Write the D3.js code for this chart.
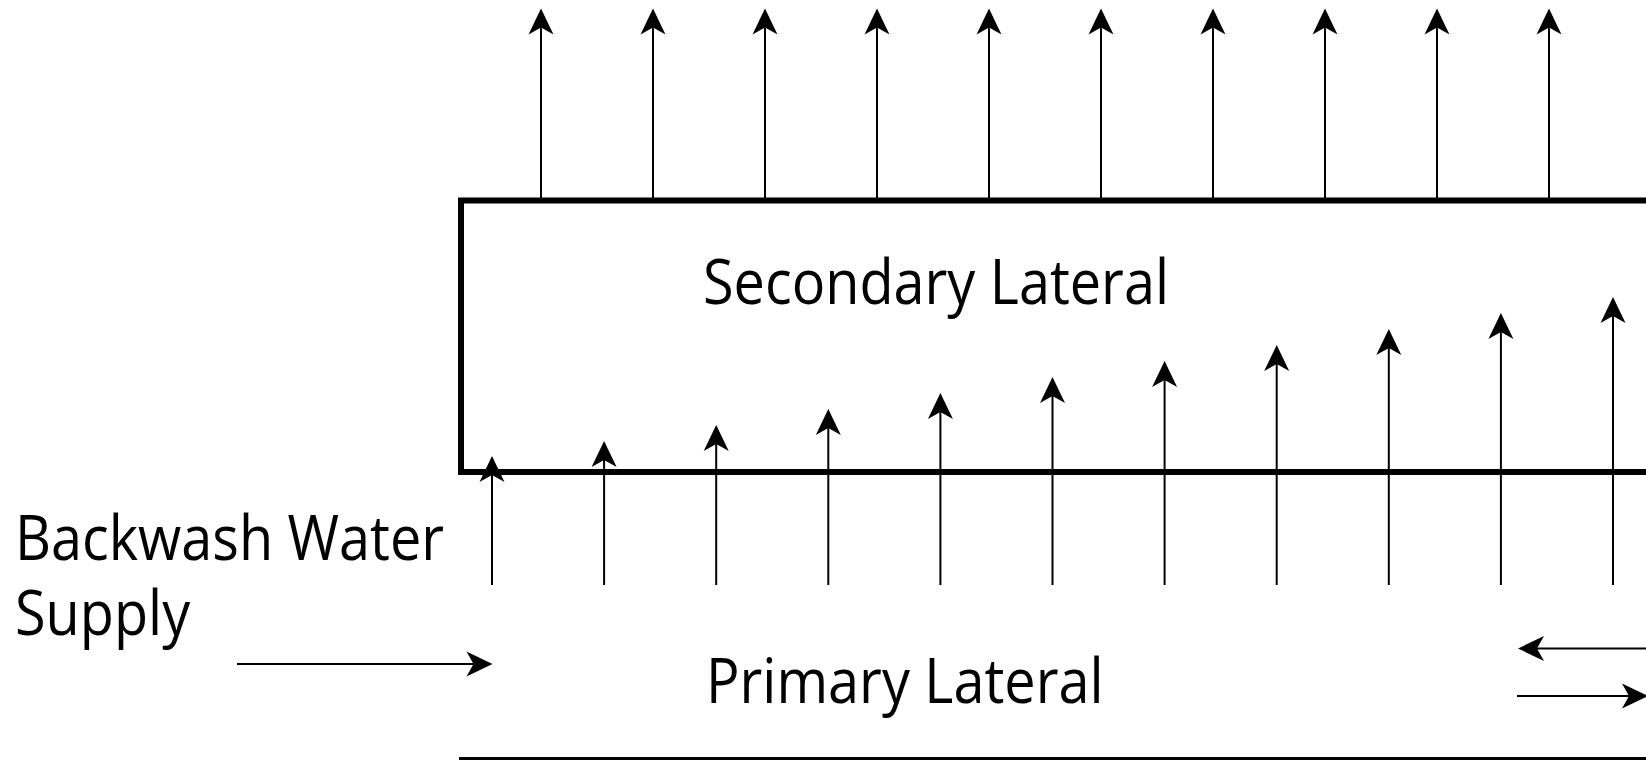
<!DOCTYPE html>
<html>
<head>
<meta charset="utf-8">
<script src="https://cdn.jsdelivr.net/npm/d3@7"></script>
<style>
  html, body { margin: 0; padding: 0; background: #fff; }
  svg { display: block; }
  text { font-family: 'Open Sans', 'Noto Sans', sans-serif; fill: #000; }
</style>
</head>
<body>
<div id="chart"></div>
<script>
// Backwash flow through an underdrain: primary lateral feeds the secondary
// lateral through orifices whose flow grows along the pipe, secondary lateral
// discharges evenly through its top nozzles.

// orifice index along the pipe
const primaryOrifices = ['o1', 'o2', 'o3', 'o4', 'o5', 'o6', 'o7', 'o8', 'o9', 'o10', 'o11'];
const secondaryNozzles = ['n1', 'n2', 'n3', 'n4', 'n5', 'n6', 'n7', 'n8', 'n9', 'n10'];

// arrow reach (relative flow)
const primaryFlow = [129, 144, 160, 176, 192, 208, 224, 240, 256, 272, 288];
const secondaryFlow = [192, 192, 192, 192, 192, 192, 192, 192, 192, 192];

const labels = {
    secondary: 'Secondary Lateral',
    primary: 'Primary Lateral',
    supply: ['Backwash Water', 'Supply'],
};

const W = 1646, H = 760;

const svg = d3.select('#chart').append('svg')
    .attr('width', W).attr('height', H)
    .attr('viewBox', `0 0 ${W} ${H}`);

// layout
const boxLeft = 461, boxTop = 200.5, boxBottom = 472;
const floorY = 759;
const outletBase = 585;

const xPrimary = d3.scalePoint().domain(primaryOrifices).range([492, 1613]);
const xSecondary = d3.scalePoint().domain(secondaryNozzles).range([541, 1549]);

// flow → arrow tip height
const yPrimary = d3.scaleLinear().domain([0, 300]).range([outletBase, outletBase - 300]);
const ySecondary = d3.scaleLinear().domain([0, 300]).range([boxTop, boxTop - 300]);

const HEAD_LEN = 26, HEAD_HALF = 12.5, HEAD_NOTCH = 7;
const headPath = `M0,0L${HEAD_HALF},${HEAD_LEN}L0,${HEAD_LEN - HEAD_NOTCH}L${-HEAD_HALF},${HEAD_LEN}Z`;

function upArrow(g, x, y0, y1) {
    g.append('line')
        .attr('x1', x).attr('x2', x)
        .attr('y1', y0).attr('y2', y1 + HEAD_LEN - HEAD_NOTCH)
        .attr('stroke', '#000').attr('stroke-width', 2);
    g.append('path')
        .attr('d', headPath)
        .attr('transform', `translate(${x},${y1})`)
        .attr('fill', '#000');
}

function hArrow(g, x0, x1, y) {
    const dir = x1 > x0 ? 1 : -1;
    g.append('line')
        .attr('x1', x0).attr('x2', x1 - dir * (HEAD_LEN - HEAD_NOTCH))
        .attr('y1', y).attr('y2', y)
        .attr('stroke', '#000').attr('stroke-width', 2);
    g.append('path')
        .attr('d', headPath)
        .attr('transform', `translate(${x1},${y}) rotate(${dir > 0 ? 90 : -90})`)
        .attr('fill', '#000');
}

// secondary lateral box (open on the right)
svg.append('path')
    .attr('d', `M${W + 5},${boxTop}H${boxLeft}V${boxBottom}H${W + 5}`)
    .attr('fill', 'none')
    .attr('stroke', '#000')
    .attr('stroke-width', 6)
    .attr('stroke-linejoin', 'miter');

// primary lateral floor
svg.append('line')
    .attr('x1', boxLeft - 2).attr('x2', W + 5)
    .attr('y1', floorY).attr('y2', floorY)
    .attr('stroke', '#000').attr('stroke-width', 4);

const arrows = svg.append('g');

secondaryNozzles.forEach((id, i) => {
    upArrow(arrows, xSecondary(id), boxTop, ySecondary(secondaryFlow[i]));
});

primaryOrifices.forEach((id, i) => {
    upArrow(arrows, xPrimary(id), outletBase, yPrimary(primaryFlow[i]));
});

// supply inflow and flow along the primary lateral
hArrow(arrows, 237, 492.5, 664);
hArrow(arrows, W + 5, 1518, 648.5);
hArrow(arrows, 1517, 1648, 696);

// text (humanist face, slightly condensed toward the original lettering)
const FONT = 62, SQUEEZE = 0.9;
function label(lines, x, y, lineGap = 75) {
    const t = svg.append('text')
        .attr('transform', `translate(${x},${y}) scale(${SQUEEZE},1)`)
        .attr('font-size', FONT);
    [].concat(lines).forEach((str, i) => {
        t.append('tspan').attr('x', 0).attr('y', i * lineGap).text(str);
    });
}

label(labels.secondary, 703, 304);
label(labels.primary, 706, 703);
label(labels.supply, 15, 560);
</script>
</body>
</html>
